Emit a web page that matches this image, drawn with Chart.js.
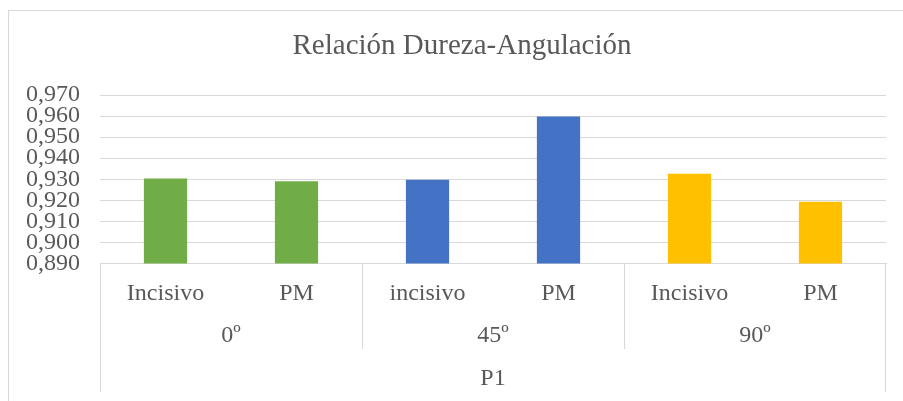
<!DOCTYPE html>
<html>
<head>
<meta charset="utf-8">
<script src="https://cdn.jsdelivr.net/npm/chart.js@4.4.1/dist/chart.umd.min.js"></script>
<style>
  html, body { margin: 0; padding: 0; background: #fff; overflow: hidden; }
  #frame { position: absolute; left: 8px; top: 10px; width: 1000px; height: 1000px; border: 1px solid #d9d9d9; }
  #wrap { position: absolute; left: 0; top: 0; width: 903px; height: 401px; }
</style>
</head>
<body>
<div id="frame"></div>
<div id="wrap"><canvas id="chart" width="903" height="401"></canvas></div>
<script>
// chart data
const TITLE = 'Relación Dureza-Angulación';
const SUBCATS = ['Incisivo', 'PM', 'incisivo', 'PM', 'Incisivo', 'PM'];
const GROUPS = ['0º', '45º', '90º'];
const TOP_GROUP = 'P1';
const VALUES = [0.9304, 0.9290, 0.9298, 0.9598, 0.9326, 0.9193];
const BAR_COLORS = ['#70AD47', '#70AD47', '#4472C4', '#4472C4', '#FFC000', '#FFC000'];

const FONT = "'Liberation Serif', 'Times New Roman', serif";
const TEXT = '#595959';
const LINE = '#d9d9d9';

// title (the chart object is wider than the window, so it sits off-centre)
// plus the second and third level of the category axis and its separators
const groupAxis = {
  id: 'groupAxis',
  afterDraw(chart) {
    const { ctx, chartArea, scales } = chart;
    const x = scales.x;
    const px = i => x.getPixelForValue(i);
    const bottom = chartArea.bottom;
    ctx.save();
    ctx.strokeStyle = LINE;
    ctx.lineWidth = 1;
    ctx.beginPath();
    ctx.moveTo(chartArea.left + 0.5, bottom); ctx.lineTo(chartArea.left + 0.5, 392);
    ctx.moveTo(chartArea.right - 0.5, bottom); ctx.lineTo(chartArea.right - 0.5, 392);
    for (let g = 1; g < GROUPS.length; g++) {
      const sx = Math.round((px(g * 2 - 1) + px(g * 2)) / 2) + 0.5;
      ctx.moveTo(sx, bottom); ctx.lineTo(sx, 349);
    }
    ctx.stroke();

    ctx.fillStyle = TEXT;
    ctx.textAlign = 'center';
    ctx.textBaseline = 'middle';
    ctx.font = '29px ' + FONT;
    ctx.fillText(TITLE, 462, 46);

    ctx.font = '24px ' + FONT;
    GROUPS.forEach((label, g) => {
      const cx = (px(g * 2) + px(g * 2 + 1)) / 2;
      ctx.fillText(label, cx, 336);
    });
    ctx.fillText(TOP_GROUP, (chartArea.left + chartArea.right) / 2, 379);
    ctx.restore();
  }
};

new Chart(document.getElementById('chart'), {
  type: 'bar',
  data: {
    labels: SUBCATS,
    datasets: [{
      data: VALUES,
      backgroundColor: BAR_COLORS,
      borderWidth: 0,
      categoryPercentage: 1,
      barPercentage: 0.33,
    }],
  },
  options: {
    responsive: false,
    animation: false,
    layout: { padding: { left: 21, right: 17, top: 95, bottom: 0 } },
    plugins: {
      legend: { display: false },
      tooltip: { enabled: false },
      title: { display: false },
    },
    scales: {
      y: {
        min: 0.89,
        max: 0.97,
        border: { display: false },
        grid: { color: LINE, lineWidth: 1, drawTicks: false },
        ticks: {
          stepSize: 0.01,
          autoSkip: false,
          padding: 20,
          color: TEXT,
          font: { family: FONT, size: 24 },
          callback: v => v.toFixed(3).replace('.', ','),
        },
        afterFit: s => { s.width = 79; },
      },
      x: {
        border: { display: true, color: LINE, width: 1 },
        grid: { display: false, drawTicks: false },
        ticks: {
          padding: 16,
          color: TEXT,
          font: { family: FONT, size: 24 },
          maxRotation: 0,
          autoSkip: false,
        },
        afterFit: s => { s.height = 137.5; },
      },
    },
  },
  plugins: [groupAxis],
});
</script>
</body>
</html>
